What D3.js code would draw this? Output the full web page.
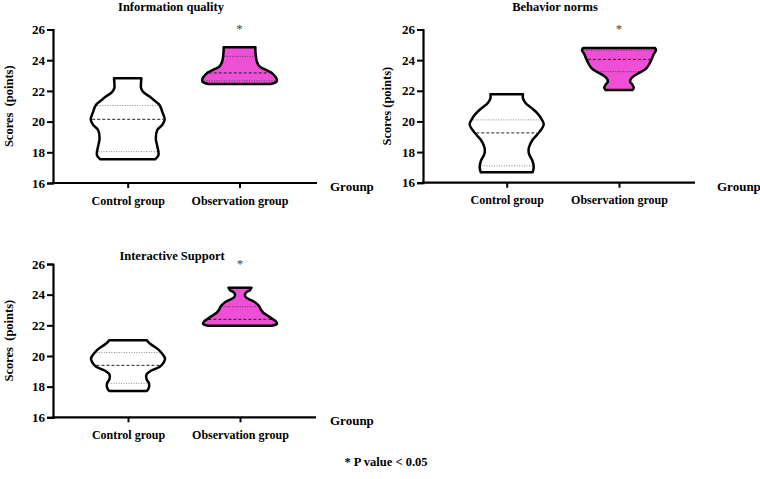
<!DOCTYPE html>
<html>
<head>
<meta charset="utf-8">
<script src="https://cdn.jsdelivr.net/npm/d3@7"></script>
<style>
  body { margin: 0; background: #fff; }
  text { font-family: "Liberation Serif", "Times New Roman", serif; }
</style>
</head>
<body>
<div id="chart"></div>
<script>
// ---- data ----
const groups = ["Control group", "Observation group"];
const panelTitles = ["Information quality", "Behavior norms", "Interactive Support"];
const yLabels = ["Scores  (points)", "Scores (points)", "Scores  (points)"];
const xLabel = "Grounp";
const yTicks = [16, 18, 20, 22, 24, 26];
const yDomain = [16, 26];

// violin profiles: [score, relative density]
const infoControl = [[17.54,0.74],[17.8,0.83],[18.04,0.83],[18.5,0.79],[18.9,0.76],[19.45,0.8],[19.8,0.94],[20.15,1.0],[20.6,0.94],[21.08,0.86],[21.4,0.71],[21.62,0.6],[21.9,0.43],[22.2,0.36],[22.5,0.36],[22.82,0.37]];
const infoObs = [[22.45,0.83],[22.6,1.0],[22.8,1.0],[23.0,0.94],[23.2,0.86],[23.4,0.69],[23.6,0.54],[23.9,0.47],[24.3,0.44],[24.6,0.43],[24.85,0.43]];
const normsControl = [[16.68,0.7],[17.0,0.73],[17.4,0.7],[17.9,0.6],[18.3,0.6],[18.8,0.7],[19.3,0.88],[19.8,1.0],[20.2,0.93],[20.6,0.8],[20.9,0.66],[21.2,0.51],[21.5,0.44],[21.78,0.44]];
const normsObs = [[22.05,0.36],[22.2,0.4],[22.4,0.36],[22.6,0.3],[22.8,0.33],[23.0,0.42],[23.25,0.61],[23.5,0.75],[23.8,0.83],[24.1,0.89],[24.4,0.94],[24.65,1.0],[24.8,0.97]];
const supportControl = [[17.72,0.51],[17.9,0.56],[18.2,0.57],[18.5,0.5],[18.8,0.5],[19.05,0.63],[19.3,0.86],[19.6,0.97],[19.85,1.0],[20.1,0.94],[20.4,0.83],[20.65,0.69],[20.85,0.57],[21.03,0.51]];
const supportObs = [[21.97,0.86],[22.1,1.0],[22.25,0.97],[22.4,0.89],[22.6,0.77],[22.8,0.64],[23.0,0.57],[23.2,0.53],[23.4,0.46],[23.6,0.34],[23.8,0.17],[24.0,0.13],[24.15,0.17],[24.3,0.27],[24.45,0.31]];

// quartiles: [Q1, median, Q3]
const infoQuart = [[18.04, 20.15, 21.05], [22.65, 23.17, 24.25]];
const normsQuart = [[17.1, 19.25, 20.1], [23.25, 24.05, 24.65]];
const supportQuart = [[18.22, 19.39, 20.22], [22.0, 22.39, 23.22]];

const significant = [false, true];

// ---- layout ----
const W = 760, H = 479;
const maxHalf = 37;
const fills = ["#ffffff", "#ef4fd6"];

const panels = [
    {profiles: [infoControl, infoObs], quart: infoQuart,
     left: 53, right: 317, top: 29.5, bottom: 183, cats: [127.7, 239.5],
     titleX: 171, titleY: 11, ylabX: 13, grX: 330},
    {profiles: [normsControl, normsObs], quart: normsQuart,
     left: 423, right: 695, top: 29.5, bottom: 182.7, cats: [506.7, 619],
     titleX: 555, titleY: 11, ylabX: 391, grX: 717},
    {profiles: [supportControl, supportObs], quart: supportQuart,
     left: 53, right: 316, top: 264, bottom: 417.3, cats: [128, 240],
     titleX: 172, titleY: 260, ylabX: 13, grX: 330}
];

const svg = d3.select("#chart").append("svg")
    .attr("width", W).attr("height", H)
    .style("background", "#fff");

const w = d3.scaleLinear().domain([0, 1]).range([0, maxHalf]);

panels.forEach((p, i) => {
    const g = svg.append("g");
    const y = d3.scaleLinear().domain(yDomain).range([p.bottom, p.top]);
    const x = d3.scalePoint().domain(groups).range(p.cats);

    // violins
    groups.forEach((grp, j) => {
        const prof = p.profiles[j];
        const cx = x(grp);
        const area = d3.area()
            .y(d => y(d[0]))
            .x0(d => cx - w(d[1]))
            .x1(d => cx + w(d[1]))
            .curve(d3.curveCatmullRom.alpha(0.5));
        g.append("path")
            .datum(prof)
            .attr("d", area)
            .attr("fill", fills[j])
            .attr("stroke", "none");

        // quartile lines
        const halfAt = d3.scaleLinear().domain(prof.map(d => d[0])).range(prof.map(d => w(d[1]))).clamp(true);
        p.quart[j].forEach((q, k) => {
            const hw = halfAt(q) - 1.5;
            g.append("line")
                .attr("x1", cx - hw).attr("x2", cx + hw)
                .attr("y1", y(q)).attr("y2", y(q))
                .attr("stroke", k === 1 ? "#222" : (j === 0 ? "#888" : "#444"))
                .attr("stroke-width", 1)
                .attr("stroke-dasharray", k === 1 ? "3,2" : "1,1.5");
        });

        g.append("path")
            .datum(prof)
            .attr("d", area)
            .attr("fill", "none")
            .attr("stroke", "#000")
            .attr("stroke-width", 2.5)
            .attr("stroke-linejoin", "round");

        if (significant[j]) {
            g.append("text")
                .attr("x", cx).attr("y", p.top + 3.5)
                .attr("text-anchor", "middle")
                .attr("font-size", 13)
                .attr("fill", "#444")
                .text("*");
        }
    });

    // y axis
    const yAxis = g.append("g")
        .attr("transform", `translate(${p.left},0)`)
        .call(d3.axisLeft(y).tickValues(yTicks).tickSizeOuter(0).tickSize(6).tickPadding(2));
    yAxis.select(".domain").attr("stroke-width", 2.2);
    yAxis.selectAll(".tick line").attr("stroke-width", 2);
    yAxis.selectAll(".tick text")
        .attr("font-size", 13).attr("font-weight", "bold")
        .attr("font-family", "Liberation Serif").attr("fill", "#000");

    // x axis
    const xAxis = g.append("g")
        .attr("transform", `translate(0,${p.bottom})`)
        .call(d3.axisBottom(x).tickSize(5).tickPadding(8));
    xAxis.select(".domain").remove();
    xAxis.append("line")
        .attr("x1", p.left - 1).attr("x2", p.right)
        .attr("stroke", "#000").attr("stroke-width", 2.2);
    xAxis.selectAll(".tick line").attr("stroke-width", 2);
    xAxis.selectAll(".tick text")
        .attr("font-size", 12).attr("font-weight", "bold")
        .attr("font-family", "Liberation Serif").attr("fill", "#000");

    // title
    g.append("text")
        .attr("x", p.titleX).attr("y", p.titleY)
        .attr("text-anchor", "middle")
        .attr("font-size", 12.5).attr("font-weight", "bold")
        .text(panelTitles[i]);

    // y label
    g.append("text")
        .attr("transform", `translate(${p.ylabX},${(p.top + p.bottom) / 2}) rotate(-90)`)
        .attr("text-anchor", "middle")
        .attr("font-size", 12.5).attr("font-weight", "bold")
        .style("white-space", "pre")
        .text(yLabels[i]);

    // x label
    g.append("text")
        .attr("x", p.grX).attr("y", p.bottom + 8)
        .attr("font-size", 13).attr("font-weight", "bold")
        .text(xLabel);
});

svg.append("text")
    .attr("x", 386).attr("y", 466)
    .attr("text-anchor", "middle")
    .attr("font-size", 12.5).attr("font-weight", "bold")
    .text("* P value < 0.05");
</script>
</body>
</html>
